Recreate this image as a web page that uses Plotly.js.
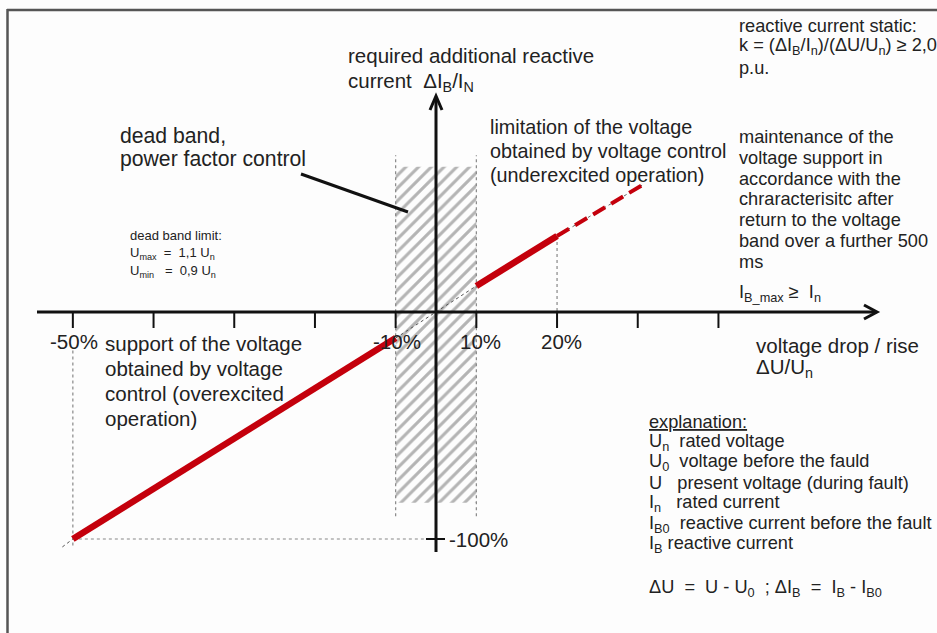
<!DOCTYPE html>
<html>
<head>
<meta charset="utf-8">
<script src="https://cdn.plot.ly/plotly-3.0.1.min.js"></script>
<style>html,body{margin:0;padding:0;background:#fff;}#chart{width:937px;height:633px;}</style>
</head>
<body>
<div id="chart"></div>
<script>
// ---------------- data (values in %) ----------------
const xTicks = [-50, -40, -30, -20, -10, 10, 20, 30, 40];
const xTickLabelVals = [-50, -10, 10, 20];
const xTickLabels = ['-50%', '-10%', '10%', '20%'];
const yTickVal = -100;
const yTickLabel = '-100%';

const deadBandX = [-10, 10];
const deadBandY = [-84, 64];          // extent of hatched area
const deadBandGuideY = [-90, 69];     // dotted border lines

const supportX = [-50, -10];          // overexcited, red solid
const supportY = [-100, -11.5];
const limitX = [10, 20];              // underexcited, red solid
const limitY = [11.5, 33.5];
const maintainX = [20, 30.6];         // red dashed continuation
const maintainY = [33.5, 56];
const thinX = [-51.3, -50, null, -10, 0, 10];
const thinY = [-103.5, -100, null, -11.5, 0, 11.5];

// ---------------- schematic axis: dead band drawn at half scale ----------------
const DB = 10;
function sx(v) { if (v === null) return null; const a = Math.abs(v); return Math.sign(v) * (a <= DB ? a * 0.5 : DB * 0.5 + (a - DB)); }
const mapX = arr => arr.map(sx);

const W = 937, H = 633;
const PXX = 8.07, PXY = 2.27, OX = 436, OY = 312;
const xRange = [-OX / PXX, (W - OX) / PXX];
const yRange = [-(H - OY) / PXY, OY / PXY];
const px = v => v / W, py = v => 1 - v / H;

const RED = '#c4000c';
const FONT = 'Liberation Sans, Arial, sans-serif';
const TXT = '#222';
const BIG = 20.5, MID = 18.2, SMALL = 13;

const traces = [
  { // hatched dead band
    x: mapX([deadBandX[0], deadBandX[1], deadBandX[1], deadBandX[0], deadBandX[0]]),
    y: [deadBandY[1], deadBandY[1], deadBandY[0], deadBandY[0], deadBandY[1]],
    mode: 'lines', fill: 'toself', fillcolor: 'rgba(0,0,0,0)',
    fillpattern: { shape: '/', size: 9, solidity: 0.34, fgcolor: '#b4b4b4', bgcolor: 'rgba(0,0,0,0)' },
    line: { width: 0, color: 'rgba(0,0,0,0)' }, hoverinfo: 'skip'
  },
  { // dotted guide lines
    x: mapX([deadBandX[0], deadBandX[0], null, deadBandX[1], deadBandX[1], null, -50, -50, null, -50, 0, null, 20, 20]),
    y: [deadBandGuideY[0], deadBandGuideY[1], null, deadBandGuideY[0], deadBandGuideY[1], null, -17, -103, null, -100, -100, null, maintainY[0], 0],
    mode: 'lines', line: { color: '#888', width: 1.2, dash: 'dot' }, hoverinfo: 'skip'
  },
  { // thin characteristic line through the origin
    x: mapX(thinX), y: thinY,
    mode: 'lines', line: { color: '#555', width: 1, dash: 'dot' }, hoverinfo: 'skip'
  },
  { x: mapX(maintainX), y: maintainY, mode: 'lines', line: { color: '#666', width: 1, dash: 'dot' }, hoverinfo: 'skip' },
  { x: mapX(maintainX), y: maintainY, mode: 'lines', line: { color: RED, width: 4, dash: '14px,7px' }, hoverinfo: 'skip' },
  { x: mapX(supportX), y: supportY, mode: 'lines', line: { color: RED, width: 6.5 }, hoverinfo: 'skip' },
  { x: mapX(limitX), y: limitY, mode: 'lines', line: { color: RED, width: 6.5 }, hoverinfo: 'skip' }
];

const shapes = [
  // frame
  { type: 'line', xref: 'paper', yref: 'paper', x0: px(7), x1: 1, y0: py(10), y1: py(10), line: { color: '#555', width: 2.5 } },
  { type: 'line', xref: 'paper', yref: 'paper', x0: px(7.5), x1: px(7.5), y0: py(9), y1: 0, line: { color: '#555', width: 2.5 } },
  // axes
  { type: 'line', xref: 'x', yref: 'y', x0: (37 - OX) / PXX, x1: (876 - OX) / PXX, y0: 0, y1: 0, line: { color: '#111', width: 3 } },
  { type: 'line', xref: 'x', yref: 'y', x0: 0, x1: 0, y0: (OY - 552) / PXY, y1: (OY - 97) / PXY, line: { color: '#111', width: 3 } },
  // arrow heads
  { type: 'path', xref: 'x', yref: 'y', xsizemode: 'pixel', ysizemode: 'pixel', xanchor: (877 - OX) / PXX, yanchor: 0,
    path: 'M-13,7 L0,0 L-13,-7', line: { color: '#111', width: 3 } },
  { type: 'path', xref: 'x', yref: 'y', xsizemode: 'pixel', ysizemode: 'pixel', xanchor: 0, yanchor: (OY - 96) / PXY,
    path: 'M-6,-14 L0,0 L6,-14', line: { color: '#111', width: 3 } },
  // -100% tick
  { type: 'line', xref: 'x', yref: 'y', xsizemode: 'pixel', xanchor: 0, x0: -10, x1: 9, y0: yTickVal, y1: yTickVal, line: { color: '#111', width: 2 } },
  // leader line for "dead band"
  { type: 'line', xref: 'paper', yref: 'paper', x0: px(301), y0: py(174), x1: px(408), y1: py(212), line: { color: '#111', width: 3 } }
];
xTicks.forEach(v => shapes.push({ type: 'line', xref: 'x', yref: 'y', ysizemode: 'pixel', yanchor: 0,
  x0: sx(v), x1: sx(v), y0: 0, y1: -16, line: { color: '#111', width: 2 } }));

const annotations = [];
function txt(lines, x, y0, dy, size, opts) {
  lines.forEach((t, i) => annotations.push(Object.assign({
    text: t, xref: 'paper', yref: 'paper', x: px(x), y: py(y0 + i * dy),
    xanchor: 'left', yanchor: 'middle', showarrow: false,
    font: { family: FONT, size: size, color: TXT }
  }, opts || {})));
}

const yTitle = ['required additional reactive', 'current  ΔI<sub>B</sub>/I<sub>N</sub>'];
const staticText = ['reactive current static:', 'k = (ΔI<sub>B</sub>/I<sub>n</sub>)/(ΔU/U<sub>n</sub>) ≥ 2,0', 'p.u.'];
const limitText = ['limitation of the voltage', 'obtained by voltage control', '(underexcited operation)'];
const deadText = ['dead band,', 'power factor control'];
const maintText = ['maintenance of the', 'voltage support in', 'accordance with the', 'chraracterisitc after', 'return to the voltage', 'band over a further 500', 'ms'];
const ibmaxText = ['I<sub>B_max</sub> ≥  I<sub>n</sub>'];
const dbLimitText = ['dead band limit:', 'U<sub>max</sub>  =  1,1 U<sub>n</sub>', 'U<sub>min</sub>   =  0,9 U<sub>n</sub>'];
const supportText = ['support of the voltage', 'obtained by voltage', 'control (overexcited', 'operation)'];
const xTitle = ['voltage drop / rise', 'ΔU/U<sub>n</sub>'];
const explText = ['<u>explanation:</u>', 'U<sub>n</sub>  rated voltage', 'U<sub>0</sub>  voltage before the fauld', 'U   present voltage (during fault)',
  'I<sub>n</sub>   rated current', 'I<sub>B0</sub>  reactive current before the fault', 'I<sub>B</sub> reactive current'];
const eqText = ['ΔU  =  U - U<sub>0</sub>  ; ΔI<sub>B</sub>  =  I<sub>B</sub> - I<sub>B0</sub>'];

txt(yTitle, 346, 55, 27, BIG);
txt(staticText, 737, 26, 21, MID);
txt(limitText, 488, 127, 24, 19.8);
txt(deadText, 118, 135, 24, 21.2);
txt(maintText, 737, 137, 20.8, MID);
txt(ibmaxText, 737, 293, 20, MID);
txt(dbLimitText, 128, 236, 17.5, SMALL);
txt(supportText, 103, 343, 25, BIG);
txt(xTitle, 754, 345, 23, BIG);
txt(explText, 647, 422, 20.4, MID);
txt(eqText, 647, 588, 20, MID);

xTickLabelVals.forEach((v, i) => annotations.push({
  text: xTickLabels[i], xref: 'x', yref: 'paper', x: sx(v), y: py(341), xanchor: 'center', yanchor: 'middle',
  xshift: v > 0 ? 4 : 1, showarrow: false, font: { family: FONT, size: BIG, color: TXT }
}));
annotations.push({ text: yTickLabel, xref: 'x', yref: 'y', x: 0, y: yTickVal, xanchor: 'left', yanchor: 'middle',
  xshift: 11, showarrow: false, font: { family: FONT, size: BIG, color: TXT } });

const layout = {
  width: W, height: H, margin: { l: 0, r: 0, t: 0, b: 0 },
  paper_bgcolor: '#fdfdfd', plot_bgcolor: 'rgba(0,0,0,0)', showlegend: false,
  xaxis: { range: xRange, visible: false, fixedrange: true },
  yaxis: { range: yRange, visible: false, fixedrange: true },
  shapes: shapes, annotations: annotations, hovermode: false
};
Plotly.newPlot('chart', traces, layout, { staticPlot: true });
</script>
</body>
</html>
